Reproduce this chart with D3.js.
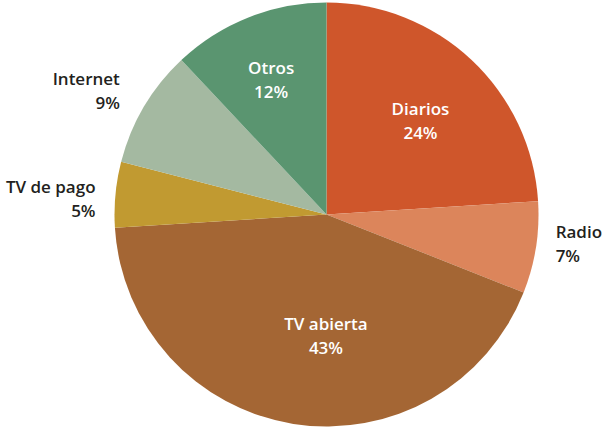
<!DOCTYPE html>
<html>
<head>
<meta charset="utf-8">
<script src="https://cdn.jsdelivr.net/npm/d3@7/dist/d3.min.js"></script>
<style>
  html, body { margin: 0; padding: 0; background: #fff; }
  svg { display: block; }
  text { font-family: "Open Sans", "Lato", sans-serif; font-weight: 600; font-size: 17px; }
</style>
</head>
<body>
<svg id="chart" width="604" height="427"></svg>
<script>
// Audience share by medium (percent), clockwise from 12 o'clock
const categories = ["Diarios", "Radio", "TV abierta", "TV de pago", "Internet", "Otros"];
const shares = [24, 7, 43, 5, 9, 12];
const colors = ["#cf562b", "#dc855b", "#a46634", "#c19a31", "#a4b9a1", "#5a9570"];
const outside = ["Radio", "TV de pago", "Internet"];

// Small hand-tuned nudges for label placement (px)
const labelNudge = {
  "Diarios":    [4, 2],
  "Radio":      [0, -7],
  "TV abierta": [20, -8],
  "TV de pago": [0, 6],
  "Internet":   [-7, -5],
  "Otros":      [-7, -12]
};

const cx = 326.5, cy = 214.5, R = 212;

const svg = d3.select("#chart");
const g = svg.append("g").attr("transform", `translate(${cx},${cy})`);

const data = categories.map((c, i) => ({ name: c, value: shares[i], color: colors[i] }));

const pie = d3.pie().value(d => d.value).sort(null);
const arcs = pie(data);

const arc = d3.arc().innerRadius(0).outerRadius(R);
const inLabel = d3.arc().innerRadius(R * 0.62).outerRadius(R * 0.62);

g.selectAll("path.slice")
  .data(arcs)
  .enter().append("path")
  .attr("class", "slice")
  .attr("d", arc)
  .attr("fill", d => d.data.color);

g.selectAll("g.label")
  .data(arcs)
  .enter().append("g")
  .attr("class", "label")
  .each(function(d) {
    const isOut = outside.includes(d.data.name);
    const mid = (d.startAngle + d.endAngle) / 2;
    let x, y, anchor;
    if (isOut) {
      const rr = R + 20;
      x = rr * Math.sin(mid);
      y = -rr * Math.cos(mid);
      anchor = Math.sin(mid) >= 0 ? "start" : "end";
    } else {
      [x, y] = inLabel.centroid(d);
      anchor = "middle";
    }
    const [nx, ny] = labelNudge[d.data.name] || [0, 0];
    x += nx; y += ny;
    const t = d3.select(this).append("text")
      .attr("text-anchor", anchor)
      .attr("fill", isOut ? "#231f20" : "#ffffff");
    t.append("tspan").attr("x", x).attr("y", y - 6).text(d.data.name);
    t.append("tspan").attr("x", x).attr("y", y + 18).text(d.data.value + "%");
  });
</script>
</body>
</html>
